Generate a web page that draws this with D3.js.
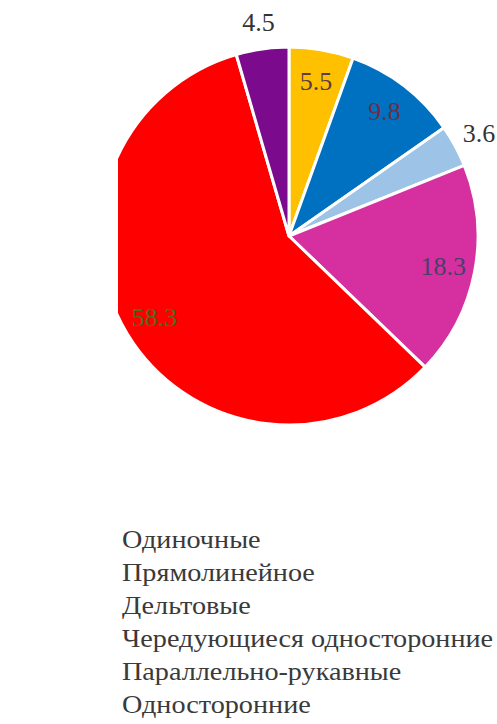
<!DOCTYPE html>
<html>
<head>
<meta charset="utf-8">
<script src="https://cdn.jsdelivr.net/npm/d3@7"></script>
</head>
<body style="margin:0">
<svg id="chart" width="497" height="724"></svg>
<script>
// Branching types of channels, share in percent
const categories = [
  "Одиночные",
  "Прямолинейное",
  "Дельтовые",
  "Чередующиеся односторонние",
  "Параллельно-рукавные",
  "Односторонние"
];
const values = [5.5, 9.8, 3.6, 18.3, 58.3, 4.5];
const colors = ["#ffc000", "#0070c0", "#9dc3e6", "#d62fa0", "#ff0000", "#7b0b8c"];
const labelColors = ["#5b3a4a", "#6a3048", "#333333", "#4a3f6a", "#4f6a1c", "#333333"];
// slices too narrow for an inside label get theirs outside the rim
const outside = [false, false, true, false, false, true];
const FONT = '"Liberation Serif"';

const svg = d3.select("#chart");
const cx = 289, cy = 236, R = 189;

svg.append("defs").append("clipPath").attr("id", "plotClip")
  .append("rect").attr("x", 118).attr("y", 0).attr("width", 379).attr("height", 460);

const pie = d3.pie().sort(null).value(d => d.value);
const arcs = pie(categories.map((c, i) => ({ name: c, value: values[i], i })));
const arc = d3.arc().innerRadius(0).outerRadius(R);

const g = svg.append("g").attr("clip-path", "url(#plotClip)")
  .append("g").attr("transform", `translate(${cx},${cy})`);

g.selectAll("path").data(arcs).join("path")
  .attr("d", arc)
  .attr("fill", d => colors[d.data.i])
  .attr("stroke", "#ffffff")
  .attr("stroke-width", 3)
  .attr("stroke-linejoin", "round");

const inArc = d3.arc().innerRadius(157).outerRadius(157);
const outArc = d3.arc().innerRadius(216).outerRadius(216);

// value labels
const lg = svg.append("g").attr("transform", `translate(${cx},${cy})`);
lg.selectAll("text").data(arcs).join("text")
  .attr("transform", d => {
    const [x, y] = (outside[d.data.i] ? outArc : inArc).centroid(d);
    return `translate(${x},${y})`;
  })
  .attr("text-anchor", "middle")
  .attr("y", 9)
  .style("font-family", FONT)
  .style("font-size", "26px")
  .attr("fill", d => labelColors[d.data.i])
  .text(d => d3.format(".1f")(d.data.value));

// Legend (text entries only), slightly widened lettering
const legend = svg.append("g").attr("transform", "translate(122,548) scale(1.085,1)");
legend.selectAll("text").data(categories).join("text")
  .attr("x", 0)
  .attr("y", (d, i) => i * 33)
  .style("font-family", FONT)
  .style("font-size", "26px")
  .attr("fill", "#3a3a3a")
  .text(d => d);
</script>
</body>
</html>
